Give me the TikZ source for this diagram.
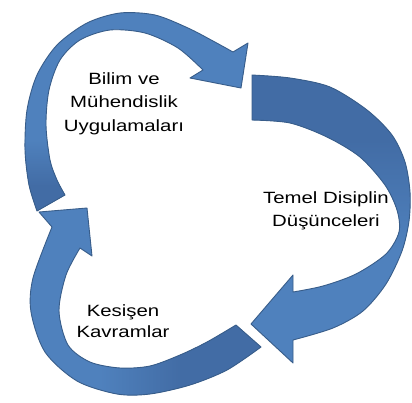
\documentclass[tikz,border=0pt]{standalone}
\usepackage{fontspec}
\setmainfont{Liberation Sans}
\definecolor{arrowlight}{RGB}{79,129,189}
\definecolor{arrowdark}{RGB}{66,108,165}
\definecolor{arrowedge}{RGB}{56,93,138}
\tikzset{
  arrowline/.style={draw=arrowedge, line width=0.9pt, line join=round},
  cycletext/.style={anchor=base, inner sep=0pt, text=black}
}
% one block of centred lines, widened a little
\newcommand\cyclelines[2]{\scalebox{1.25}[1]{\fontsize{16.3}{#1}\selectfont\begin{tabular}[t]{@{}c@{}}#2\end{tabular}}}

% outlines of the three curved arrows (units: 1pt, y pointing down)
\def\arrowApath{plot[smooth] coordinates {(37,211) (29,185) (25,150) (27,110) (37,75) (57,45) (87,23) (120,13) (155,15) (188,28) (213,41) (233,52)}
  -- (248,43) -- (241,88) -- (190,78) -- (203,70)
  -- plot[smooth] coordinates {(203,70) (178,48) (145,33) (110,30) (80,40) (60,60) (49,90) (46,125) (50,160) (57,180) (65,195)} -- cycle}
\def\arrowBpath{plot[smooth] coordinates {(252,75) (290,78) (330,87) (367,110) (392,135) (405,162) (410,192) (409,221) (402,251) (386,284) (363,311) (333,328) (293,340)}
  -- (293,363) -- (251,324) -- (293,275) -- (293,292)
  -- plot[smooth] coordinates {(293,292) (323,286) (356,274) (386,254) (399,232) (397,210) (385,185) (360,157) (327,137) (290,123) (252,120)} -- cycle}
\def\arrowCpath{plot[smooth] coordinates {(261,347) (227,370) (190,385) (150,394) (117,394) (77,381) (45,352) (31,312) (33,278) (52,227)}
  -- (39,212) -- (87,208) -- (92,256) -- (80,248)
  -- plot[smooth] coordinates {(80,248) (66,275) (59,311) (68,345) (90,362) (120,368) (150,366) (180,355) (207,342) (236,325)} -- cycle}

\begin{document}
\begin{tikzpicture}[x=1pt, y=-1pt]
  \useasboundingbox[fill=white] (0,0) rectangle (412,402);

  % arrow from the left side over the top
  \begin{scope}
    \clip \arrowApath;
    \fill[arrowlight] (0,0) rectangle (412,402);
    \shade[top color=arrowlight, bottom color=arrowdark] (0,140) rectangle (412,186);
    \fill[arrowdark] (0,185) rectangle (412,220);
  \end{scope}
  \draw[arrowline] \arrowApath;

  % arrow down the right side
  \begin{scope}
    \clip \arrowBpath;
    \fill[arrowlight] (0,0) rectangle (412,402);
    \fill[arrowdark] (240,60) rectangle (412,141);
    \shade[top color=arrowdark, bottom color=arrowlight] (240,140) rectangle (412,250);
  \end{scope}
  \draw[arrowline] \arrowBpath;

  % arrow round the bottom and up the left
  \begin{scope}
    \clip \arrowCpath;
    \fill[arrowlight] (0,0) rectangle (412,402);
    \shade[left color=arrowlight, right color=arrowdark] (100,300) rectangle (181,402);
    \fill[arrowdark] (180,300) rectangle (270,402);
  \end{scope}
  \draw[arrowline] \arrowCpath;

  \node[cycletext] (practices) at (124,84) {\cyclelines{23.8}{Bilim ve\\Mühendislik\\Uygulamaları}};
  \node[cycletext] (core) at (326,203) {\cyclelines{23.4}{Temel Disiplin\\Düşünceleri}};
  \node[cycletext] (crosscut) at (123,316) {\cyclelines{21.8}{Kesişen\\Kavramlar}};
\end{tikzpicture}
\end{document}
